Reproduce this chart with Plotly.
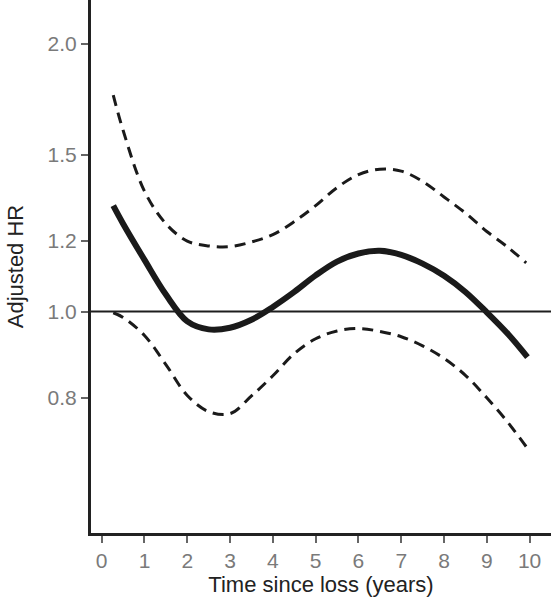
import plotly.graph_objects as go

# Hazard ratio estimate and 95% CI over time since loss (years)
hr_years = [0.27, 0.5, 1.0, 1.5, 2.0, 2.5, 3.0, 3.5, 4.0, 4.5, 5.0, 5.5, 6.0, 6.5, 7.0, 7.5, 8.0, 8.5, 9.0, 9.5, 9.95]
hr_est   = [1.315, 1.255, 1.143, 1.045, 0.975, 0.955, 0.959, 0.979, 1.012, 1.052, 1.098, 1.138, 1.162, 1.170, 1.158, 1.132, 1.097, 1.052, 0.998, 0.943, 0.889]

up_years = [0.27, 0.5, 1.0, 1.5, 2.0, 2.5, 3.0, 3.5, 4.0, 4.5, 5.0, 5.5, 6.0, 6.5, 7.0, 7.5, 8.0, 8.5, 9.0, 9.5, 9.92]
up_est   = [1.75, 1.598, 1.365, 1.255, 1.20, 1.185, 1.183, 1.197, 1.22, 1.262, 1.315, 1.378, 1.425, 1.445, 1.438, 1.40, 1.345, 1.29, 1.23, 1.18, 1.134]

lo_years = [0.27, 0.5, 1.0, 1.5, 2.0, 2.5, 3.0, 3.5, 4.0, 4.5, 5.0, 5.5, 6.0, 6.5, 7.0, 7.5, 8.0, 8.5, 9.0, 9.5, 9.95]
lo_est   = [0.997, 0.985, 0.94, 0.872, 0.805, 0.772, 0.768, 0.804, 0.847, 0.897, 0.932, 0.951, 0.957, 0.95, 0.937, 0.915, 0.886, 0.848, 0.80, 0.75, 0.702]

x_ticks = [0, 1, 2, 3, 4, 5, 6, 7, 8, 9, 10]
y_ticks = [0.8, 1.0, 1.2, 1.5, 2.0]
y_tick_labels = ["0.8", "1.0", "1.2", "1.5", "2.0"]

FONT = "Arial, Liberation Sans, sans-serif"

fig = go.Figure()
fig.add_hline(y=1.0, line=dict(color="#1e1e1e", width=2))
fig.add_trace(go.Scatter(x=up_years, y=up_est, mode="lines",
                         line=dict(color="#1a1a1a", width=3, dash="11px,7px", shape="spline", smoothing=1)))
fig.add_trace(go.Scatter(x=lo_years, y=lo_est, mode="lines",
                         line=dict(color="#1a1a1a", width=3, dash="11px,7px", shape="spline", smoothing=1)))
fig.add_trace(go.Scatter(x=hr_years, y=hr_est, mode="lines",
                         line=dict(color="#1a1a1a", width=6, shape="spline", smoothing=1)))

fig.update_layout(
    width=551, height=600,
    margin=dict(l=91, r=0, t=0, b=67),
    paper_bgcolor="white", plot_bgcolor="white",
    showlegend=False,
    font=dict(family=FONT, size=22, color="#222222"),
    xaxis=dict(range=[-0.25, 10.5], tickvals=x_ticks, showgrid=False, zeroline=False,
               showline=True, linecolor="#222222", linewidth=3,
               ticks="outside", ticklen=7, tickwidth=2, tickcolor="#666666",
               tickfont=dict(color="#7a7a7a", size=21),
               title=dict(text="Time since loss (years)", standoff=4,
                          font=dict(size=22, color="#222222"))),
    yaxis=dict(type="log", range=[-0.2487, 0.3499], tickvals=y_ticks, ticktext=y_tick_labels,
               showgrid=False, zeroline=False,
               showline=True, linecolor="#222222", linewidth=3,
               ticks="outside", ticklen=7, tickwidth=2, tickcolor="#666666",
               tickfont=dict(color="#7a7a7a", size=21),
               title=dict(text="Adjusted HR", standoff=18,
                          font=dict(size=22, color="#222222"))),
)

fig.write_html("out.html")
